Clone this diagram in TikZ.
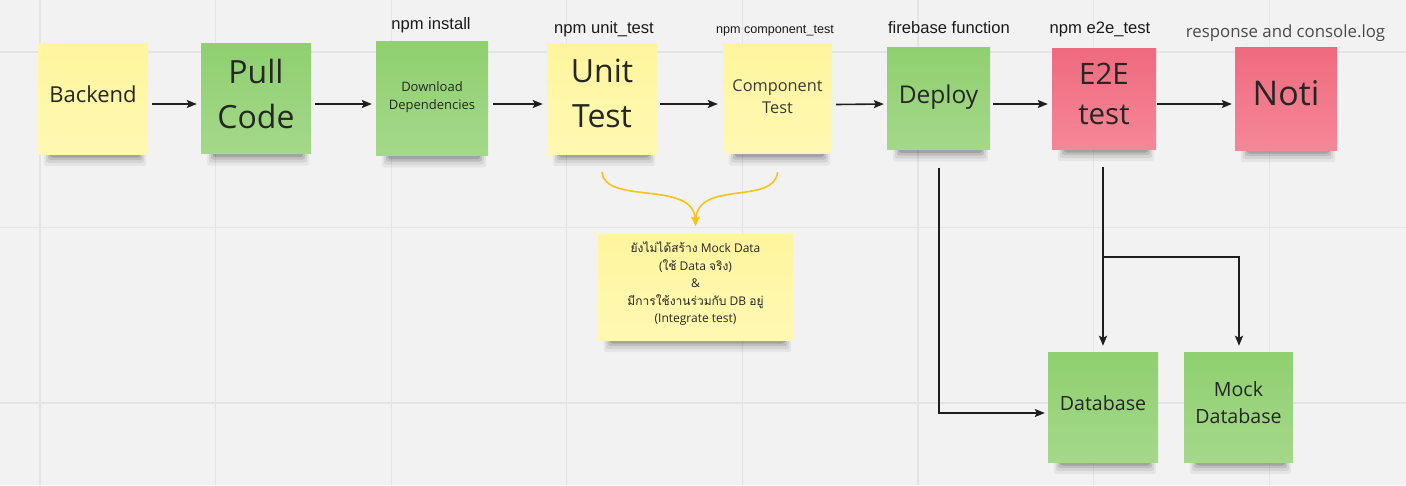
\documentclass[tikz,border=0pt]{standalone}
\usepackage{fontspec}
\setmainfont{Open Sans}
\newfontfamily\thaifont[Script=Thai]{Loma}
\newfontfamily\arialfont{Liberation Sans}
\usetikzlibrary{arrows.meta}
\pgfdeclarelayer{gridlayer}
\pgfdeclarelayer{shadowlayer}
\pgfsetlayers{gridlayer,shadowlayer,main}
\definecolor{bgc}{HTML}{F2F2F2}
\definecolor{gridc}{HTML}{E4E4E4}
\definecolor{ytop}{HTML}{FFF59E}
\definecolor{ybot}{HTML}{FFF8B2}
\definecolor{gtop}{HTML}{8FD06F}
\definecolor{gbot}{HTML}{A4D88A}
\definecolor{rtop}{HTML}{EF6A7E}
\definecolor{rbot}{HTML}{F58797}
\definecolor{ink}{HTML}{1E1E1E}
\definecolor{txt}{HTML}{262626}
\definecolor{txtsoft}{HTML}{3A3A3A}
\definecolor{lblc}{HTML}{1A1A1A}
\definecolor{lblgray}{HTML}{4A4A4A}
\definecolor{gold}{HTML}{F8C31A}
\newcommand{\noteshadow}[1]{%
  \foreach \li/\ri/\dd/\o in {6/2/12/0.05,8/4/9/0.07,10/6/6/0.10,12/8/3.5/0.14}{%
    \fill[black,opacity=\o,rounded corners=3pt]
      ([shift={(\li,-4)}]#1.south west) rectangle ([shift={(-\ri,\dd)}]#1.south east);}}
\tikzset{
  note/.style={inner sep=0pt, draw=none},
  ynote/.style={note, top color=ytop, bottom color=ybot},
  gnote/.style={note, top color=gtop, bottom color=gbot},
  rnote/.style={note, top color=rtop, bottom color=rbot},
  ntext/.style={inner sep=0pt, align=center, text=txt},
  lbl/.style={inner sep=0pt, anchor=base, text=lblc, font=\arialfont\fontsize{16.6}{20}\selectfont},
  flow/.style={draw=ink, line width=1.6pt, -{Stealth[length=10pt,width=8pt,inset=2pt]}},
  goldflow/.style={draw=gold, line width=1.6pt, -{Stealth[length=9pt,width=8pt,inset=2pt]}},
}
\begin{document}
\begin{tikzpicture}[x=1pt,y=-1pt]
\useasboundingbox (0,0) rectangle (1406,485);
\begin{pgfonlayer}{gridlayer}
  \fill[bgc] (0,0) rectangle (1406,485);
  \foreach \gx in {40,215.6,391.2,566.8,742.4,918,1093.6,1269.2}
    \draw[gridc, line width=1.2pt] (\gx,0) -- (\gx,485);
  \foreach \gy in {52,227.5,403}
    \draw[gridc, line width=1.2pt] (0,\gy) -- (1406,\gy);
\end{pgfonlayer}

% notes
\node[ynote, minimum width=110, minimum height=111] (back) at (93,98.5) {};
\node[gnote, minimum width=110, minimum height=110] (pull) at (256,98.5) {};
\node[gnote, minimum width=112, minimum height=114] (dl) at (432,98.5) {};
\node[ynote, minimum width=110, minimum height=111] (unit) at (602,98.5) {};
\node[ynote, minimum width=109, minimum height=110] (comp) at (777.5,98.5) {};
\node[gnote, minimum width=103, minimum height=102] (dep) at (938.5,98.5) {};
\node[rnote, minimum width=104, minimum height=101] (e2e) at (1104,98.5) {};
\node[rnote, minimum width=102, minimum height=103] (noti) at (1286,98.5) {};
\node[gnote, minimum width=110, minimum height=110] (db) at (1103,407) {};
\node[gnote, minimum width=109, minimum height=110] (mock) at (1238.5,407) {};
\node[ynote, minimum width=195, minimum height=106] (thai) at (695.5,287) {};

\begin{pgfonlayer}{shadowlayer}
  \foreach \n in {back,pull,dl,unit,comp,dep,e2e,noti,db,mock,thai}{\noteshadow{\n}}
\end{pgfonlayer}

% note texts
\node[ntext, font=\fontsize{22}{26}\selectfont] (backT) at ([shift={(0,-4)}]back.center) {Backend};
\node[ntext, font=\fontsize{32}{45}\selectfont] (pullT) at ([shift={(0,-4.5)}]pull.center) {Pull\\Code};
\node[ntext, font=\fontsize{13}{18}\selectfont] (dlT) at ([shift={(0,-1.5)}]dl.center) {Download\\Dependencies};
\node[ntext, font=\fontsize{32}{45}\selectfont] (unitT) at ([shift={(0,-5)}]unit.center) {Unit\\Test};
\node[ntext, text=txtsoft, font=\fontsize{16.3}{22}\selectfont] (compT) at ([shift={(0,-2)}]comp.center) {Component\\Test};
\node[ntext, font=\fontsize{24.5}{28}\selectfont] (depT) at ([shift={(0,-1.5)}]dep.center) {Deploy};
\node[ntext, font=\fontsize{29.5}{40}\selectfont] (e2eT) at ([shift={(0,-5)}]e2e.center) {E2E\\test};
\node[ntext, font=\fontsize{34}{40}\selectfont] (notiT) at ([shift={(0,-5.5)}]noti.center) {Noti};
\node[ntext, font=\fontsize{19.6}{27}\selectfont] (dbT) at ([shift={(0,-3.5)}]db.center) {Database};
\node[ntext, font=\fontsize{19.6}{27}\selectfont] (mockT) at ([shift={(0,-4)}]mock.center) {Mock\\Database};
\node[ntext, font=\fontsize{12}{17.5}\selectfont] (thaiT) at ([shift={(0,-3)}]thai.center)
  {{\thaifont ยังไม่ได้สร้าง} Mock Data\\({\thaifont ใช้} Data {\thaifont จริง})\\\&\\{\thaifont มีการใช้งานร่วมกับ} DB {\thaifont อยู่}\\(Integrate test)};

% labels above
\node[lbl] (lInst) at (431,29) {npm install};
\node[lbl] (lUnit) at (604,33) {npm unit\_test};
\node[lbl, font=\arialfont\fontsize{12.6}{15}\selectfont] (lComp) at (775,33) {npm component\_test};
\node[lbl] (lFire) at (949,33) {firebase function};
\node[lbl] (lE2E) at (1100,33) {npm e2e\_test};
\node[lbl, text=lblgray, font=\fontsize{16.8}{20}\selectfont] (lResp) at (1285.5,37) {response and console.log};

% main flow
\draw[flow] ([shift={(4,5.5)}]back.east) -- ([shift={(-4,5.5)}]pull.west);
\draw[flow] ([shift={(4,5.5)}]pull.east) -- ([shift={(-4,5.5)}]dl.west);
\draw[flow] ([shift={(5,5.5)}]dl.east) -- ([shift={(-4,5.5)}]unit.west);
\draw[flow] ([shift={(3,5.5)}]unit.east) -- ([shift={(-5,5.5)}]comp.west);
\draw[flow] ([shift={(4,6)}]comp.east) -- ([shift={(-3,5.5)}]dep.west);
\draw[flow] ([shift={(3,5.5)}]dep.east) -- ([shift={(-4,5.5)}]e2e.west);
\draw[flow] ([shift={(1,5.5)}]e2e.east) -- ([shift={(-3,5.5)}]noti.west);

% down connectors
\draw[flow] ([shift={(0.5,18)}]dep.south) |- ([shift={(-3,6)}]db.west);
\draw[flow] ([shift={(-1,18)}]e2e.south) -- ([shift={(0,-6)}]db.north);
\draw[flow] ([shift={(-1,108)}]e2e.south) -| ([shift={(0.5,-6)}]mock.north);

% brace-like gold connector
\coordinate (bL) at ([shift={(0,18)}]unit.south);
\coordinate (bR) at ([shift={(0,18.5)}]comp.south);
\coordinate (bTip) at ([shift={(0,-8)}]thai.north);
\draw[goldflow] (bL) .. controls +(3,33) and +(-2,-46) .. (bTip);
\draw[goldflow] (bR) .. controls +(-3,33) and +(2,-46) .. (bTip);
\end{tikzpicture}
\end{document}
